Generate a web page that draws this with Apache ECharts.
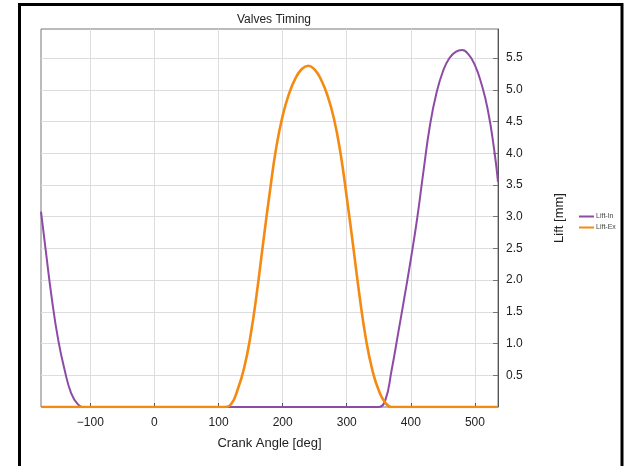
<!DOCTYPE html>
<html>
<head>
<meta charset="utf-8">
<script src="https://cdn.jsdelivr.net/npm/echarts@6/dist/echarts.min.js"></script>
<style>
html,body{margin:0;padding:0;background:#fff;}
#chart{width:627px;height:466px;}
</style>
</head>
<body>
<div id="chart"></div>
<script>
// Crank angle samples [deg]
const angles = [-177,-170,-160,-150,-140,-130,-120,-110,-100,-90,-80,-70,-60,-50,-40,-30,-20,-10,0,
  10,20,30,40,50,60,70,80,90,100,110,120,130,140,150,160,170,180,190,200,210,220,230,240,250,260,270,280,290,
  300,310,320,330,340,350,360,370,380,390,400,410,420,430,440,450,460,470,480,490,500,510,520,530,536];
// Intake valve lift [mm]
const liftIn = [3.08,2.5,1.7,1.05,0.58,0.22,0.05,0,0,0,0,0,0,0,0,0,0,0,0,
  0,0,0,0,0,0,0,0,0,0,0,0,0,0,0,0,0,0,0,0,0,0,0,0,0,0,0,0,0,
  0,0,0,0,0,0,0.1,0.58,1.15,1.73,2.33,2.98,3.74,4.45,4.95,5.29,5.5,5.6,5.63,5.56,5.39,5.1,4.69,4.06,3.55];
// Exhaust valve lift [mm]
const liftEx = [0,0,0,0,0,0,0,0,0,0,0,0,0,0,0,0,0,0,0,
  0,0,0,0,0,0,0,0,0,0,0,0.05,0.28,0.62,1.13,1.82,2.62,3.39,4.09,4.59,4.94,5.18,5.33,5.38,5.32,5.16,4.91,4.55,4.02,
  3.31,2.54,1.75,1.07,0.58,0.26,0.07,0,0,0,0,0,0,0,0,0,0,0,0,0,0,0,0,0,0];
const xTicks = [-100,0,100,200,300,400,500];
const yTicks = [0.5,1.0,1.5,2.0,2.5,3.0,3.5,4.0,4.5,5.0,5.5];

const pairs = (ys) => angles.map((a, i) => [a, ys[i]]);

const chart = echarts.init(document.getElementById('chart'));
const font = 'Liberation Sans, Arial, sans-serif';
chart.setOption({
  animation: false,
  backgroundColor: '#fff',
  title: {
    text: 'Valves Timing', left: 269, top: 9, textAlign: 'center',
    textStyle: {fontSize: 12, fontWeight: 'normal', color: '#222', fontFamily: font}
  },
  legend: {
    orient: 'vertical', left: 574, top: 208, icon: 'rect', itemWidth: 15, itemHeight: 2, itemGap: 4,
    textStyle: {fontSize: 7, color: '#444', fontFamily: font, padding: [0,0,0,-3]},
    data: ['Lift-In', 'Lift-Ex']
  },
  grid: {left: 41, right: 129, top: 29, bottom: 59, show: true, borderColor: '#777', borderWidth: 1},
  xAxis: {
    type: 'value', min: -177, max: 536,
    name: 'Crank Angle [deg]', nameLocation: 'middle', nameGap: 30,
    nameTextStyle: {fontSize: 13, color: '#222', fontFamily: font},
    axisLine: {show: false},
    axisTick: {show: true, inside: true, length: 4, lineStyle: {color: '#555'},
      customValues: xTicks},
    axisLabel: {customValues: xTicks, fontSize: 12, color: '#222', fontFamily: font, margin: 10,
      formatter: v => String(v).replace('-', '\u2212')},
    splitLine: {show: true, lineStyle: {color: '#ddd', width: 1}, customValues: xTicks}
  },
  yAxis: {
    type: 'value', position: 'right', min: 0, max: 5.96,
    name: 'Lift [mm]', nameLocation: 'middle', nameGap: 55, nameRotate: 90,
    nameTextStyle: {fontSize: 13, color: '#222', fontFamily: font},
    axisLine: {show: true, onZero: false, lineStyle: {color: '#555'}},
    axisTick: {show: true, inside: true, length: 5, lineStyle: {color: '#777'}, customValues: yTicks},
    axisLabel: {customValues: yTicks, fontSize: 12, color: '#222', fontFamily: font, margin: 8,
      formatter: v => v.toFixed(1)},
    splitLine: {show: true, lineStyle: {color: '#ddd', width: 1}, customValues: yTicks}
  },
  series: [
    {name: 'Lift-In', type: 'line', data: pairs(liftIn), smooth: 0.5, symbol: 'none',
      lineStyle: {color: '#8e4ba6', width: 2}, itemStyle: {color: '#8e4ba6'}},
    {name: 'Lift-Ex', type: 'line', data: pairs(liftEx), smooth: 0.5, symbol: 'none',
      lineStyle: {color: '#f58a12', width: 2.6}, itemStyle: {color: '#f58a12'}}
  ],
  graphic: [
    {type: 'polyline', shape: {points: [[19.5, 470], [19.5, 4.5], [622, 4.5], [622, 470]]},
      style: {stroke: '#000', lineWidth: 3, fill: null}, silent: true}
  ]
});
</script>
</body>
</html>
